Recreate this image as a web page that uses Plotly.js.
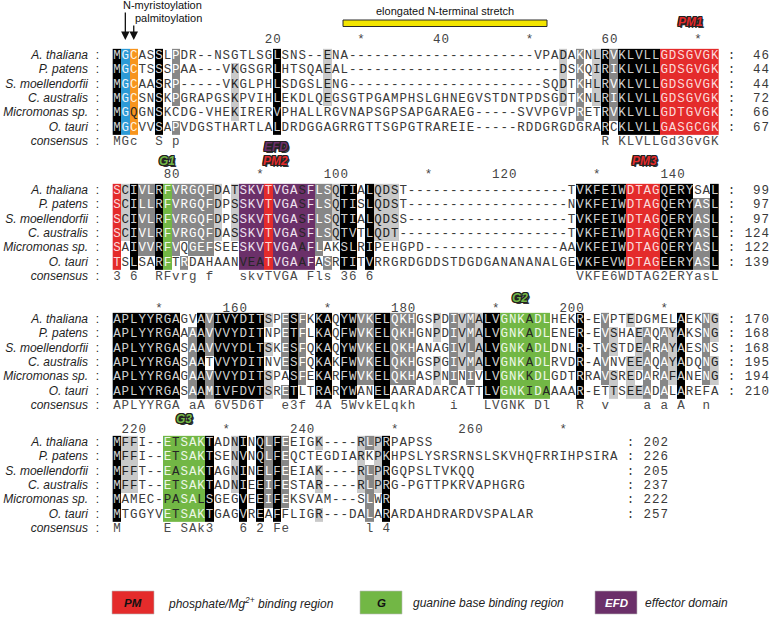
<!DOCTYPE html>
<html>
<head>
<meta charset="utf-8">
<script src="https://cdn.plot.ly/plotly-3.0.1.min.js"></script>
<style>html,body{margin:0;padding:0;background:#ffffff;}#chart{width:770px;height:628px;}</style>
</head>
<body>
<div id="chart"></div>
<script>
// ================= data =================
const species = ["A. thaliana", "P. patens", "S. moellendorfii", "C. australis", "Micromonas sp.", "O. tauri"];
const consensusLabel = "consensus";

const seqBlock1 = [
  "MGCASSLPDR--NSGTLSGLSNS--ENA" + "----------" + "----------" + "--" + "VPADAKNLRVKLVLLGDSGVGK",
  "MGCTSSSPAA---VKGSGRLHTSQAEAL" + "----------" + "----------" + "-----" + "DSKQIRIKLVLLGDSGVGK",
  "MGCAASRP-----VKGLPHLSDGSLENG" + "----------" + "----------" + "---" + "SQDTKHLRVKLVLLGDSGVGK",
  "MGCSNSKPGRAPGSKPVIHLEKDLQEGSGTPGAMPHSLGHNEGVSTDNTPDSGDTKNLRIKLVLLGDSGVGK",
  "MGQGNSKCDG-VHEKIRERVPHALLRGVNAPSGPSAPGARAEG-----SVVPGVPRETRVKLVLLGDTGVGK",
  "MGCVVSAPVDGSTHARTLALDRDGGAGRRGTTSGPGTRAREIE-----RDDGRGDGRARCKLVLLGASGCGK"
];
const seqBlock2 = [
  "SCIVLRFVRGQFDATSKVTVGASFLSQTIALQDST" + "----------" + "---------" + "TVKFEIWDTAGQERYSAL",
  "SCILLRFVRGQFDPSSKVTVGASFLSQTISLQDST" + "----------" + "---------" + "NVKFEIWDTAGQERYASL",
  "SCIVLRFVRGQFDPSSKVTVGASFLSQTIALQDSS" + "----------" + "---------" + "TVKFEIWDTAGQERYASL",
  "SCIVLRFVRGQFDASSKVTVGASFLSQTVTLQDT" + "----------" + "----------" + "TVKFEIWDTAGQERYASL",
  "SAIVVRFVQGEFSEESKVTVGAAFLAKSLRIPEHGPD" + "----------" + "------" + "AAVKFEIWDTAGQERYASL",
  "TSLSARFTRDAHAANVEATVGAAFASRTITVRRGRDGDDSTDGDGANANANALGE" + "VKFEVWDTAGEERYASL"
];
const seqBlock3 = [
  "APLYYRGAGVAVIVYDITSPESFKKAQYWVKELQKHGSPDIVMALVGNKADLHEKR-EVPTEDGMELAEKNG",
  "APLYYRGAAAAVVVYDITNPETFLKAQFWVKELQKHGNPDIVMALVGNKADLENER-EVSHAEAQAYAKSNG",
  "APLYYRGASAAVVVYDLTSKESFQKAQYWVKELQKHANAGIVLALVGNKADLDNLR-TVSTDEARAYAESNS",
  "APLYYRGASAATVVYDITNVESFQKAKFWVKELQKHGSPGIVMALVGNKADLRVDR-AVNVEEAQAYADQNG",
  "APLYYRGAGAAVVVYDITSPASFEKARFWVKELQKHASPNINIVLVGNKKDLGDTRRAVSREDARAFANENG",
  "APLYYRGASAAMIVFDVTSRETLTRARYWANELAARADARCATTLVGNKIDAAAAR-ETTSEEADALAREFA"
];
const seqBlock4 = [
  "MFFI--ETSAKTADNINQLFEEIGK----RLPRPAPSS",
  "MFFI--ETSAKTSENVNQLFEQCTEGDIARKPKHPSLYSRSRNSLSKVHQFRRIHPSIRA",
  "MFFT--EASAKTAGNINELFEEIAK----RLPRGQPSLTVKQQ",
  "MFFT--ETSAKTADNIEEIFESTAR----RLPRG-PGTTPKRVAPHGRG",
  "MAMEC-PASALSGEGVEEIFEKSVAM---SLWR",
  "MTGGYVETSAKTGAGVREAFFLIGR---DALARARDAHDRARDVSPALAR"
];

const endBlock1 = [46, 44, 44, 72, 66, 67];
const endBlock2 = [99, 97, 97, 124, 122, 139];
const endBlock3 = [170, 168, 168, 195, 194, 210];
const endBlock4 = [202, 226, 205, 237, 222, 257];

// consensus: [first column, text]
const consBlock1 = [[1, "MGc"], [6, "S"], [8, "p"], [59, "R"], [61, "KLVLLGd3GvGK"]];
const consBlock2 = [[1, "3"], [3, "6"], [6, "RFvrg"], [12, "f"], [16, "skvTVGA"], [24, "Fls"], [28, "36"], [31, "6"], [56, "VKFE6WDTAG2ERYasL"]];
const consBlock3 = [[1, "APLYYRGA"], [10, "aA"], [13, "6V5D6T"], [21, "e3f"], [25, "4A"], [28, "5WvkELqkh"], [41, "i"], [45, "LVGNK"], [51, "Dl"], [56, "R"], [59, "v"], [64, "a"], [66, "a"], [68, "A"], [71, "n"]];
const consBlock4 = [[1, "M"], [7, "E"], [9, "SAk3"], [16, "6"], [18, "2"], [20, "Fe"], [31, "l"], [33, "4"]];

// ruler: [column of last character, text]
const ticksBlock1 = [[20, "20"], [30, "*"], [40, "40"], [50, "*"], [60, "60"], [70, "*"]];
const ticksBlock2 = [[8, "80"], [18, "*"], [28, "100"], [38, "*"], [48, "120"], [58, "*"], [68, "140"]];
const ticksBlock3 = [[6, "*"], [16, "160"], [26, "*"], [36, "180"], [46, "*"], [56, "200"], [66, "*"]];
const ticksBlock4 = [[4, "220"], [14, "*"], [24, "240"], [34, "*"], [44, "260"], [54, "*"]];

// shading runs: [first col, last col, level, rows A P S C M O]
// k = 100 %, d = 80 %, l = 60 %, r = PM, g = G, p = EFD, b = myristoylation, o = palmitoylation
const shadeBlock1 = [
  [1,1,"k","111111"],[2,2,"b","111111"],[3,3,"o","111111"],[6,6,"k","111111"],[8,8,"d","111101"],
  [15,15,"l","011110"],[20,20,"k","111111"],[26,26,"l","111100"],[54,54,"l","111100"],[56,56,"d","111110"],
  [58,58,"l","111100"],[59,59,"k","111111"],[60,60,"d","111110"],[61,65,"k","111111"],[66,72,"r","111111"]
];
const shadeBlock2 = [
  [1,1,"r","111111"],[2,2,"l","111100"],[3,3,"k","111111"],[4,5,"d","111110"],[6,6,"k","111111"],
  [7,7,"g","111111"],[8,8,"d","111110"],[9,9,"d","111101"],[10,12,"d","111110"],[13,13,"l","111100"],
  [15,15,"l","111100"],[16,18,"p","111111"],[19,19,"r","111111"],[20,24,"p","111111"],[25,25,"d","111110"],
  [26,26,"d","111101"],[27,27,"l","111100"],[28,29,"k","111111"],[31,31,"k","111111"],[32,34,"l","111100"],
  [56,61,"k","111111"],[62,65,"r","111111"],[66,69,"k","111111"],[70,71,"d","011111"],[72,72,"k","111111"]
];
const shadeBlock3 = [
  [1,8,"k","111111"],[10,10,"d","011111"],[11,11,"k","111111"],[12,12,"d","111011"],[13,18,"k","111111"],
  [19,19,"l","101011"],[21,21,"d","111101"],[22,22,"k","111111"],[23,23,"d","111110"],[25,26,"k","111111"],
  [28,29,"k","111111"],[30,31,"d","111110"],[32,33,"k","111111"],[34,36,"d","111110"],[39,39,"l","110110"],
  [41,41,"d","111110"],[42,42,"l","111100"],[43,43,"d","111110"],[44,44,"l","111100"],[45,46,"k","111111"],
  [47,52,"g","111111"],[56,56,"k","111111"],[59,59,"d","111110"],[60,60,"l","011011"],[62,62,"l","100111"],
  [63,63,"l","011101"],[64,64,"d","011111"],[66,66,"d","011111"],[67,67,"l","011110"],[68,68,"k","111111"],
  [71,71,"d","111110"],[72,72,"l","110110"]
];
const shadeBlock4 = [
  [1,1,"k","111111"],[2,3,"l","111100"],[7,11,"g","111111"],[12,12,"k","111111"],[15,15,"l","111100"],
  [16,16,"k","111111"],[18,18,"k","111111"],[19,19,"d","111110"],[20,20,"k","111111"],[21,21,"d","111110"],
  [25,25,"l","101101"],[30,30,"l","111100"],[31,31,"d","101111"],[32,32,"l","111100"],[33,33,"k","111111"]
];
// letters that stay dark on a coloured box: [col, rows]
const darkBlock1 = [[3, "000010"]];
const darkBlock2 = [[23, "111111"], [16, "000001"], [17, "000001"], [18, "000001"]];
const darkBlock3 = [[50, "111111"], [52, "000001"]];
const darkBlock4 = [[8, "111111"], [7, "000010"], [11, "000010"]];

// region labels: [block, column, line, text, level]
const regionLabels = [
  [0, 69.1, "top", "PM1", "r"],
  [1, 19.85, "efd", "EFD", "p"],
  [1, 6.95, "top", "G1", "g"],
  [1, 19.8, "top", "PM2", "r"],
  [1, 63.7, "top", "PM3", "r"],
  [2, 48.9, "top", "G2", "g"],
  [3, 9.0, "top", "G3", "g"]
];
const legendKeys = ["PM", "G", "EFD"];
const legendTexts = ["phosphate/Mg<sup>2+</sup> binding region", "guanine base binding region", "effector domain"];
const legendLevels = ["r", "g", "p"];

// ================= layout / style =================
const W = 770, H = 628;
const COL_PX = 8.42, COL1_LEFT = 112.7, LINE_PX = 14.3;
const px2x = p => 0.5 + (p - COL1_LEFT) / COL_PX;
const px2y = p => p / LINE_PX;
const rowStart = [56, 191, 320, 443].map(px2y);
const tickLine = [40, 175, 309, 430].map(px2y);
const labelLine = [22, 160.5, 298, 419].map(px2y);
const efdLine = px2y(146.5);

const LEVELS = ["k", "d", "l", "r", "g", "p", "b", "o"];
const LEVEL_FILL = ["#000000", "#878787", "#c9c9c9", "#e42b2b", "#72b745", "#6b3069", "#2c9ad6", "#f7941d"];
const LEVEL_TEXT = ["#d0d0d0", "#ffffff", "#1f1f1f", "#fbdada", "#eef7e8", "#efe2ef", "#e8f4fb", "#fff1df"];
const TEXT_PLAIN = "#3a3a3a", TEXT_DARK = "#262626", RULER = "#444444", CONS = "#4a4a4a";
const MONO = "Liberation Mono, Courier New, monospace";
const SANS = "Liberation Sans, Arial, sans-serif";
const MONO_SIZE = 12.5;

const blocks = [
  {seq: seqBlock1, end: endBlock1, cons: consBlock1, ticks: ticksBlock1, shade: shadeBlock1, dark: darkBlock1},
  {seq: seqBlock2, end: endBlock2, cons: consBlock2, ticks: ticksBlock2, shade: shadeBlock2, dark: darkBlock2},
  {seq: seqBlock3, end: endBlock3, cons: consBlock3, ticks: ticksBlock3, shade: shadeBlock3, dark: darkBlock3},
  {seq: seqBlock4, end: endBlock4, cons: consBlock4, ticks: ticksBlock4, shade: shadeBlock4, dark: darkBlock4}
];

const colorscale = [];
LEVEL_FILL.forEach((c, i) => { colorscale.push([i / LEVEL_FILL.length, c]); colorscale.push([(i + 1) / LEVEL_FILL.length, c]); });

const traces = [];
const labX = [], labY = [], labT = [];
blocks.forEach((b, bi) => {
  const ncol = Math.max(...b.seq.map(s => s.length));
  const rowsY = b.seq.map((_, r) => rowStart[bi] + r);
  const consY = rowStart[bi] + b.seq.length;
  const lev = b.seq.map(() => Array(ncol).fill(null));
  b.shade.forEach(([c0, c1, lv, mask]) => {
    for (let r = 0; r < mask.length; r++) if (mask[r] === "1") for (let c = c0; c <= c1; c++) lev[r][c - 1] = LEVELS.indexOf(lv);
  });
  const dark = b.seq.map(() => Array(ncol).fill(false));
  b.dark.forEach(([c, mask]) => { for (let r = 0; r < mask.length; r++) if (mask[r] === "1") dark[r][c - 1] = true; });
  const xs = []; for (let c = 1; c <= ncol; c++) xs.push(c);
  traces.push({type: "heatmap", x: xs, y: rowsY, z: lev, colorscale: colorscale, zmin: -0.5, zmax: LEVELS.length - 0.5,
    showscale: false, hoverinfo: "skip", xgap: 0, ygap: 0, zsmooth: false});

  const X = [], Y = [], T = [], C = [];
  const put = (x, y, t, c) => { X.push(x); Y.push(y); T.push(t); C.push(c); };
  b.seq.forEach((s, r) => {
    for (let i = 0; i < s.length; i++) {
      const lv = lev[r][i];
      put(i + 1, rowsY[r], s[i], lv === null ? TEXT_PLAIN : (dark[r][i] ? TEXT_DARK : LEVEL_TEXT[lv]));
    }
    put(ncol + 2, rowsY[r], ":", TEXT_PLAIN);
    const num = String(b.end[r]);
    for (let k = 0; k < num.length; k++) put(ncol + 6 - (num.length - 1 - k), rowsY[r], num[k], TEXT_PLAIN);
    labX.push(px2x(88)); labY.push(rowsY[r]); labT.push(species[r]);
  });
  labX.push(px2x(88)); labY.push(consY); labT.push(consensusLabel);
  b.cons.forEach(([c, str]) => { for (let k = 0; k < str.length; k++) if (str[k] !== " ") put(c + k, consY, str[k], CONS); });
  b.ticks.forEach(([c, str]) => { for (let k = 0; k < str.length; k++) put(c - (str.length - 1 - k), tickLine[bi], str[k], RULER); });
  traces.push({type: "scatter", mode: "text", x: X, y: Y, text: T, textposition: "middle center",
    textfont: {family: MONO, size: MONO_SIZE, color: C}, hoverinfo: "skip", showlegend: false, cliponaxis: false});
});
traces.push({type: "scatter", mode: "text", x: labX, y: labY, text: labT, textposition: "middle left",
  textfont: {family: SANS, size: 12, style: "italic", color: "#1e1e1e"}, hoverinfo: "skip", showlegend: false, cliponaxis: false});
traces.push({type: "scatter", mode: "text", x: labX.map(() => px2x(97.3)), y: labY, text: labY.map(() => ":"), textposition: "middle center",
  textfont: {family: SANS, size: 12, color: "#1e1e1e"}, hoverinfo: "skip", showlegend: false, cliponaxis: false});

const OUTLINE = "1px 0 0 #222, -1px 0 0 #222, 0 1px 0 #222, 0 -1px 0 #222, 1px 1px 0 #222, -1px -1px 0 #222, 1px -1px 0 #222, -1px 1px 0 #222, 2px 2px 0 #333";
const annotations = [];
regionLabels.forEach(([bi, col, line, text, lv]) => {
  const y = line === "efd" ? efdLine : labelLine[bi];
  annotations.push({x: col, y: y, xref: "x", yref: "y", text: text, showarrow: false,
    font: {family: SANS, size: 12, weight: 700, style: "italic", color: LEVEL_FILL[LEVELS.indexOf(lv)], shadow: OUTLINE}});
});
// N-terminal modification arrows
annotations.push({x: 2, y: px2y(40), ax: 2, ay: px2y(11), xref: "x", yref: "y", axref: "x", ayref: "y", text: "", showarrow: true,
  arrowhead: 2, arrowsize: 1.3, arrowwidth: 1.3, arrowcolor: "#111"});
annotations.push({x: 3, y: px2y(40), ax: 3, ay: px2y(24), xref: "x", yref: "y", axref: "x", ayref: "y", text: "", showarrow: true,
  arrowhead: 2, arrowsize: 1.3, arrowwidth: 1.3, arrowcolor: "#111"});
annotations.push({x: px2x(162), y: px2y(5), xref: "x", yref: "y", text: "N-myristoylation", showarrow: false,
  font: {family: SANS, size: 11, color: "#111"}});
annotations.push({x: px2x(168), y: px2y(18), xref: "x", yref: "y", text: "palmitoylation", showarrow: false,
  font: {family: SANS, size: 11, color: "#111"}});
annotations.push({x: (px2x(343) + px2x(547)) / 2, y: px2y(11), xref: "x", yref: "y", text: "elongated N-terminal stretch", showarrow: false,
  font: {family: SANS, size: 11, color: "#111"}});

const shapes = [];
shapes.push({type: "rect", xref: "x", yref: "y", x0: px2x(343), x1: px2x(547), y0: px2y(20), y1: px2y(26.5),
  fillcolor: "#f3e500", line: {color: "#2a2a2a", width: 1}});
const legBoxLeft = [112, 360, 595], legTextLeft = [166, 411, 643];
legendKeys.forEach((k, i) => {
  const lv = LEVELS.indexOf(legendLevels[i]);
  shapes.push({type: "rect", xref: "x", yref: "y", x0: px2x(legBoxLeft[i]), x1: px2x(legBoxLeft[i] + 42), y0: px2y(591), y1: px2y(614),
    fillcolor: LEVEL_FILL[lv], line: {color: "#bbbbbb", width: 0.6}});
  annotations.push({x: px2x(legBoxLeft[i] + 21), y: px2y(602.5), xref: "x", yref: "y", text: k, showarrow: false,
    font: {family: SANS, size: 11.5, weight: 700, style: "italic", color: legendLevels[i] === "p" ? "#ffffff" : "#111111"}});
  annotations.push({x: px2x(legTextLeft[i]), y: px2y(602.5), xref: "x", yref: "y", xanchor: "left", text: legendTexts[i], showarrow: false,
    font: {family: "Liberation Sans Narrow, " + SANS, size: 12, style: "italic", color: "#222"}});
});

const layout = {
  width: W, height: H, autosize: false,
  margin: {l: 0, r: 0, t: 0, b: 0, pad: 0},
  paper_bgcolor: "#ffffff", plot_bgcolor: "#ffffff", showlegend: false,
  xaxis: {range: [px2x(0), px2x(W)], visible: false, fixedrange: true},
  yaxis: {range: [H / LINE_PX, 0], visible: false, fixedrange: true},
  shapes: shapes, annotations: annotations
};
Plotly.newPlot("chart", traces, layout, {staticPlot: true, displayModeBar: false});
</script>
</body>
</html>
